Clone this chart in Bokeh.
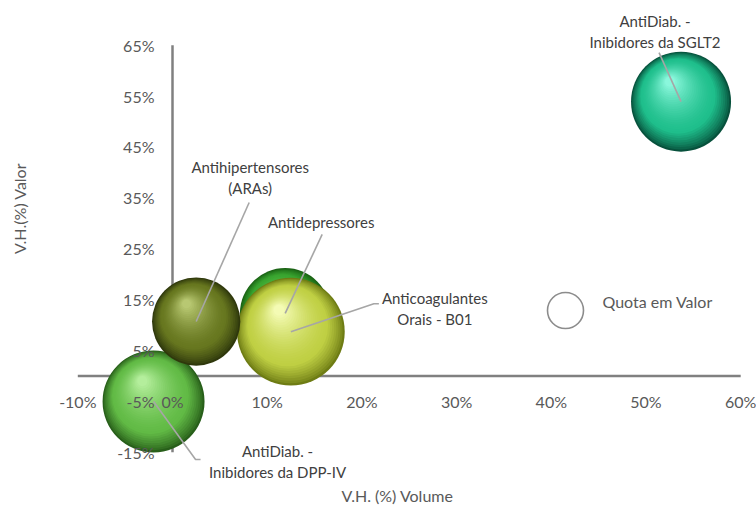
from bokeh.plotting import figure
from bokeh.models import Range1d, ColumnDataSource
from bokeh.embed import file_html
from bokeh.resources import INLINE
from bokeh.core.properties import value

# ---------------- data ----------------
categories = ["AntiDiab. -\nInibidores da SGLT2", "Antihipertensores\n(ARAs)",
              "Antidepressores", "Anticoagulantes\nOrais - B01",
              "AntiDiab. -\nInibidores da DPP-IV"]
vh_volume = [53.7, 2.5, 11.9, 12.5, -2.0]      # V.H. (%) Volume
vh_valor = [53.9, 10.7, 12.3, 8.7, -5.0]       # V.H.(%) Valor
quota_valor = [5.0, 3.9, 4.1, 5.8, 5.2]        # bubble size (Quota em Valor)
x_ticks = [-10, 0, 10, 20, 30, 40, 50, 60]
y_ticks = [-15, -5, 5, 15, 25, 35, 45, 55, 65]
x_tick_labels = [f"{t}%" for t in x_ticks]
y_tick_labels = [f"{t}%" for t in y_ticks]
x_title = "V.H. (%) Volume"
y_title = "V.H.(%) Valor"
legend_label = "Quota em Valor"

# ---------------- styling / layout ----------------
W, H = 756, 506
PX_X0, PX_PER_X = 172.0, 9.47     # screen x of 0%, px per 1%
PX_Y0, PX_PER_Y = 375.5, 5.09     # screen y of 0%, px per 1%
FONT = "Lato"
TICK_COLOR = "#595959"
LABEL_COLOR = "#404040"
LEADER_COLOR = "#a6a6a6"
AXIS_COLOR = "#808080"
REF_Q, REF_D = 5.0, 100.0         # quota -> diameter scaling

palette = [
    ("#07513c", "#1fbf8c", "#8af7dc"),   # SGLT2
    ("#2f380c", "#67771f", "#b8c872"),   # ARAs
    ("#1a6214", "#3aa630", "#80d86c"),   # Antidepressores
    ("#6e7c14", "#c0d044", "#f4fbb4"),   # Anticoagulantes
    ("#285f1a", "#62bb46", "#b4ee9c"),   # DPP-IV
]
# label block centre, leader polyline points (px offsets from bubble centre)
label_layout = [
    dict(label=(-26, -70.5), leader=[(-22, -49)]),
    dict(label=(54, -144), leader=[(53, -119)]),
    dict(label=(36, -91), leader=[(37, -79)]),
    dict(label=(144, -23.5), leader=[(83, -28), (88, -28)]),
    dict(label=(124, 60), leader=[(42, 58), (47, 58)]),
]
draw_order = [2, 3, 4, 1, 0]

x0 = -PX_X0 / PX_PER_X
x1 = (W - PX_X0) / PX_PER_X
y1 = PX_Y0 / PX_PER_Y
y0 = -(H - PX_Y0) / PX_PER_Y


def px2data(px, py):
    return (px - PX_X0) / PX_PER_X, (PX_Y0 - py) / PX_PER_Y


def dpx(dx, dy):
    return dx / PX_PER_X, -dy / PX_PER_Y


def hex2rgb(h):
    h = h.lstrip("#")
    return tuple(int(h[i:i + 2], 16) for i in (0, 2, 4))


def mix(a, b, t):
    ra, rb = hex2rgb(a), hex2rgb(b)
    return "#%02x%02x%02x" % tuple(int(round(ra[i] + (rb[i] - ra[i]) * t)) for i in range(3))


p = figure(width=W, height=H, x_range=Range1d(x0, x1), y_range=Range1d(y0, y1),
           x_axis_location=None, y_axis_location=None, toolbar_location=None,
           output_backend="svg", min_border=0, outline_line_color=None)
p.grid.visible = False
p.background_fill_color = "white"
p.border_fill_color = "white"

# axis lines crossing at 0
p.segment(x0=[x_ticks[0]], y0=[0], x1=[x_ticks[-1]], y1=[0],
          line_color=AXIS_COLOR, line_width=2.5)
p.segment(x0=[0], y0=[y_ticks[0]], x1=[0], y1=[y_ticks[-1]],
          line_color=AXIS_COLOR, line_width=2.5)

# bubbles with sphere-like shading
N = 30
for i in draw_order:
    d = REF_D * (quota_valor[i] / REF_Q) ** 0.5
    r = d / 2
    edge, base, hi = palette[i]
    hx, hy = -0.22 * r, -0.40 * r
    xs, ys, sizes, cols = [], [], [], []
    for k in range(N):
        t = k / (N - 1)
        s = d * (1 - 0.9 * t)
        ox, oy = dpx(hx * t, hy * t)
        if t < 0.28:
            c = mix(edge, base, (t / 0.28) ** 0.8)
        else:
            c = mix(base, hi, ((t - 0.28) / 0.72) ** 1.5)
        xs.append(vh_volume[i] + ox)
        ys.append(vh_valor[i] + oy)
        sizes.append(s)
        cols.append(c)
    src = ColumnDataSource(dict(x=xs, y=ys, size=sizes, color=cols))
    p.scatter(x="x", y="y", size="size", fill_color="color", line_color=None, source=src)

# tick labels (drawn above bubbles)
p.text(x=x_ticks, y=[0] * len(x_ticks), text=x_tick_labels, text_align="center",
       text_baseline="middle", y_offset=25, text_font=value(FONT),
       text_font_size="16px", text_color=TICK_COLOR)
p.text(x=[0] * len(y_ticks), y=y_ticks, text=y_tick_labels, text_align="right",
       text_baseline="middle", x_offset=-18, text_font=value(FONT),
       text_font_size="16px", text_color=TICK_COLOR)

# leader lines
lxs, lys = [], []
for i in range(len(categories)):
    xs = [vh_volume[i]]
    ys = [vh_valor[i]]
    for (ox, oy) in label_layout[i]["leader"]:
        dx, dy = dpx(ox, oy)
        xs.append(vh_volume[i] + dx)
        ys.append(vh_valor[i] + dy)
    lxs.append(xs)
    lys.append(ys)
p.multi_line(xs=lxs, ys=lys, line_color=LEADER_COLOR, line_width=1.6)

# data labels
tx, ty, txt, txo, tyo = [], [], [], [], []
for i, cat in enumerate(categories):
    lines = cat.split("\n")
    lx, ly = label_layout[i]["label"]
    n = len(lines)
    for j, line in enumerate(lines):
        tx.append(vh_volume[i])
        ty.append(vh_valor[i])
        txt.append(line)
        txo.append(lx)
        tyo.append(ly + (j - (n - 1) / 2) * 21)
p.text(x="x", y="y", text="t", x_offset="xo", y_offset="yo",
       source=ColumnDataSource(dict(x=tx, y=ty, t=txt, xo=txo, yo=tyo)),
       text_align="center", text_baseline="middle", text_font=value(FONT),
       text_font_size="15px", text_color=LABEL_COLOR)

# legend
lgx, lgy = px2data(565, 310)
p.scatter(x=[lgx], y=[lgy], size=36, fill_color="white", line_color="#8c8c8c", line_width=1.6)
ltx, lty = px2data(602, 301)
p.text(x=[ltx], y=[lty], text=[legend_label], text_align="left", text_baseline="middle",
       text_font=value(FONT), text_font_size="16px", text_color=TICK_COLOR)

# axis titles
atx, aty = px2data(397, 495)
p.text(x=[atx], y=[aty], text=[x_title], text_align="center", text_baseline="middle",
       text_font=value(FONT), text_font_size="16px", text_color=TICK_COLOR)
ayx, ayy = px2data(19, 208)
p.text(x=[ayx], y=[ayy], text=[y_title], text_align="center", text_baseline="middle",
       angle=1.5708, text_font=value(FONT), text_font_size="16px", text_color=TICK_COLOR)

open("out.html", "w").write(file_html(p, INLINE))
